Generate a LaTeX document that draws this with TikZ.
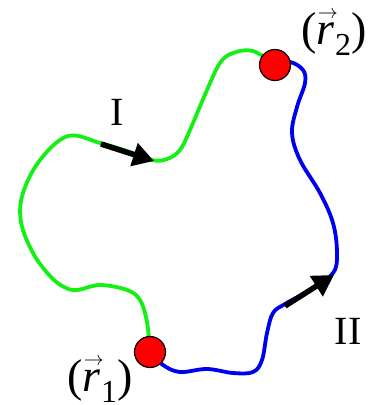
\documentclass[tikz,border=0pt]{standalone}
\usepackage{fix-cm}
\usepackage{fontspec}
\setmainfont{Liberation Serif}
\usetikzlibrary{arrows.meta}
\definecolor{pathgreen}{RGB}{20,240,20}
\definecolor{pathblue}{RGB}{0,0,240}
\newcommand{\vecr}[1]{\textit{r}\llap{\raisebox{0.55em}{\fontsize{20}{20}\selectfont$\rightarrow$}\kern-0.06em}\raisebox{-0.26em}{\fontsize{32}{34}\selectfont #1}}
\tikzset{
  pathline/.style={line width=3.8pt, line cap=round, line join=round},
  bigarrow/.style={line width=5.5pt, -{Triangle[length=21pt,width=23pt]}},
  point/.style={circle, fill=red, draw=black, line width=1.2pt, minimum size=31pt, inner sep=0pt},
  lbl/.style={font=\fontsize{40}{44}\selectfont, inner sep=0pt},
  rlbl/.style={font=\fontsize{46}{50}\selectfont, inner sep=0pt, anchor=base}
}
\begin{document}
\begin{tikzpicture}[x=1pt,y=-1pt]
\useasboundingbox (0,0) rectangle (378,405);
\coordinate (c1) at (150,352);
\coordinate (c2) at (275,65);
% path I (green)
\draw[pathline, pathgreen] plot[smooth, tension=0.6] coordinates {
 (150,352) (147,322) (140,300) (127,290) (100,285) (77,290) (64,287) (50,276) (33,253) (21,222)
 (23,193) (40,160) (68,136) (100,143) (127,151) (152,160) (167,159) (180,150) (190,130)
 (207,90) (220,63) (233,53) (253,51) (275,65)};
% path II (blue)
\draw[pathline, pathblue] plot[smooth, tension=0.6] coordinates {
 (150,352) (163,365) (180,372) (207,369) (233,373) (253,372) (262,360) (267,333) (273,313)
 (285,304) (310,290) (333,273) (337,253) (333,223) (320,193) (300,160) (292,133) (297,107)
 (305,83) (303,70) (290,62) (275,65)};
% arrows
\coordinate (a1s) at (101,144);
\coordinate (a1e) at (154,161);
\coordinate (a2s) at (285,306);
\coordinate (a2e) at (334,275);
\draw[bigarrow] (a1s) -- (a1e);
\draw[bigarrow] (a2s) -- (a2e);
% points
\node[point] (r1) at (c1) {};
\node[point] (r2) at (c2) {};
% labels
\node[lbl] (lI) at (117,112) {I};
\node[lbl] (lII) at (348,331) {II};
\node[rlbl] (lr2) at (334,44) {(\vecr{2})};
\node[rlbl] (lr1) at (100,391) {(\vecr{1})};
\end{tikzpicture}
\end{document}
